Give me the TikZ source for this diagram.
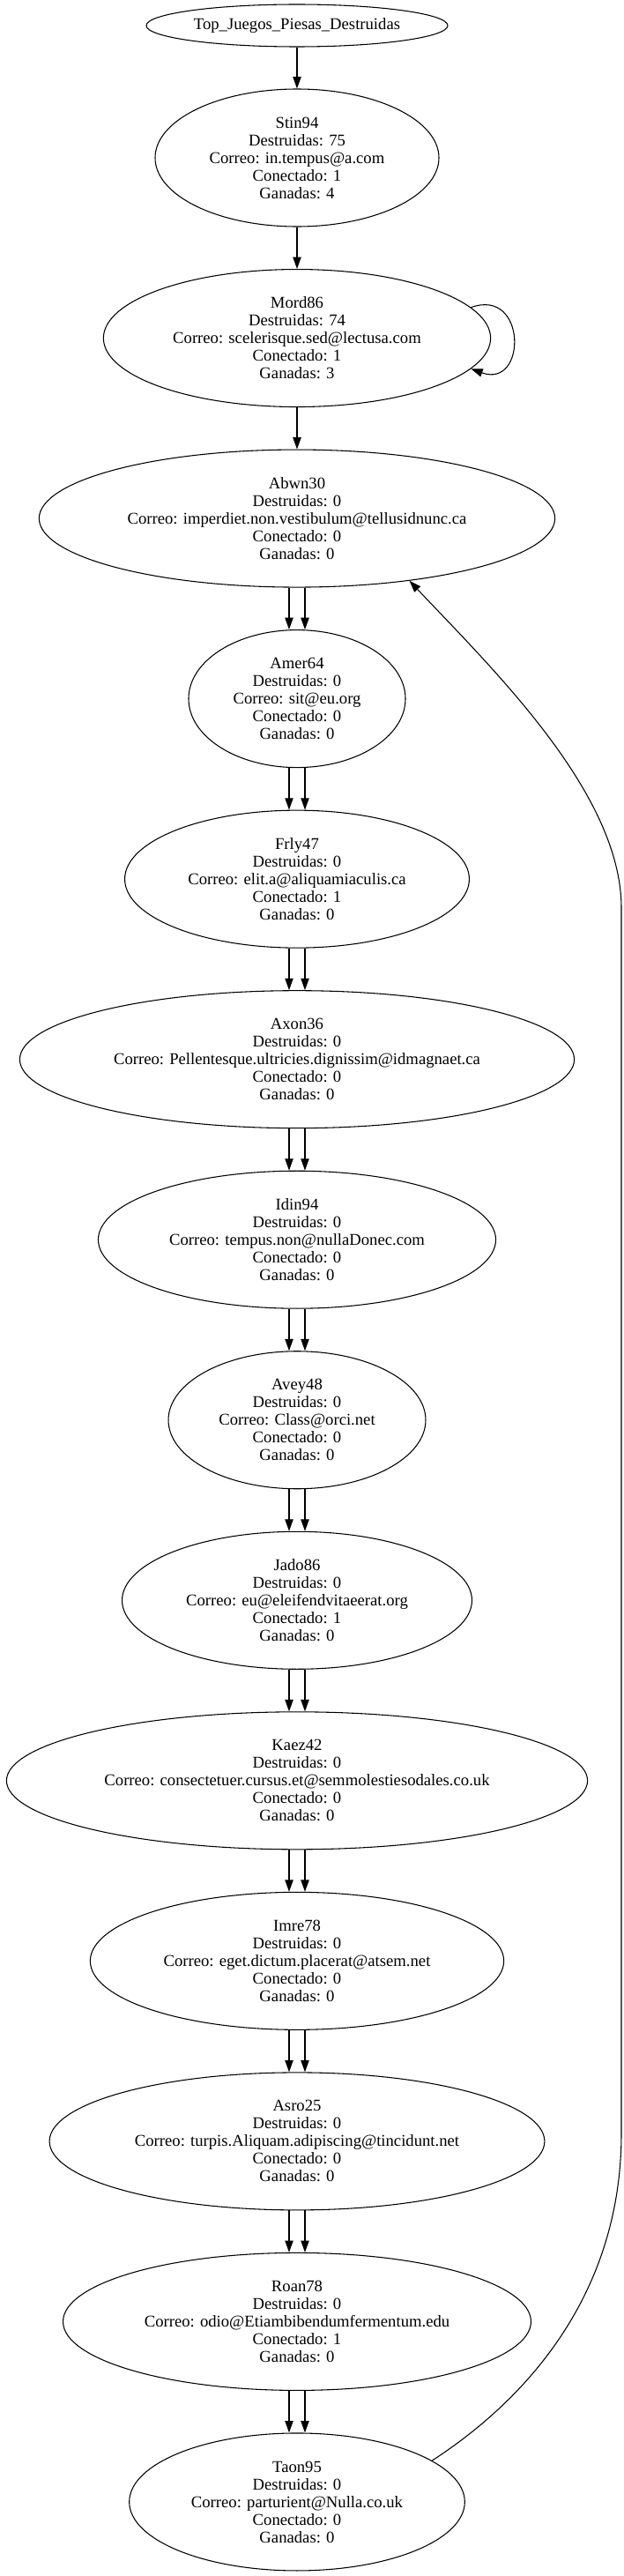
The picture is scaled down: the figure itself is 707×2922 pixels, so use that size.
\documentclass[tikz,border=0pt]{standalone}
\usepackage{fontspec}
\setmainfont{Liberation Serif}
\usetikzlibrary{shapes.geometric,positioning,arrows.meta}

\begin{document}
\begin{tikzpicture}[%
	    ->,
	    >={Triangle[length=10pt,width=7pt]},
	    x=0.75pt, y=-0.75pt,
	    node distance=153.4pt,
	    on grid,
	    jugador/.style={ellipse, draw, align=center,
	      font=\fontsize{14}{15}\selectfont,
	      inner xsep=10.9pt, inner ysep=0pt, minimum height=117pt},
	    thick
	  ]

  \useasboundingbox (0,0) rectangle (707,2922);

	  \node[jugador, minimum width=256.5pt, minimum height=36pt, inner sep=0pt] (Top) at (337,29) {Top\_Juegos\_Piesas\_Destruidas};
	  \node[jugador] (Stin94) [below=112.5pt of Top] {Stin94\\Destruidas: 75\\Correo: in.tempus@a.com\\Conectado: 1\\Ganadas: 4};
	  \node[jugador] (Mord86) [below of=Stin94] {Mord86\\Destruidas: 74\\Correo: scelerisque.sed@lectusa.com\\Conectado: 1\\Ganadas: 3};
	  \node[jugador] (Abwn30) [below of=Mord86] {Abwn30\\Destruidas: 0\\Correo: imperdiet.non.vestibulum@tellusidnunc.ca\\Conectado: 0\\Ganadas: 0};
	  \node[jugador] (Amer64) [below of=Abwn30] {Amer64\\Destruidas: 0\\Correo: sit@eu.org\\Conectado: 0\\Ganadas: 0};
	  \node[jugador] (Frly47) [below of=Amer64] {Frly47\\Destruidas: 0\\Correo: elit.a@aliquamiaculis.ca\\Conectado: 1\\Ganadas: 0};
	  \node[jugador] (Axon36) [below of=Frly47] {Axon36\\Destruidas: 0\\Correo: Pellentesque.ultricies.dignissim@idmagnaet.ca\\Conectado: 0\\Ganadas: 0};
	  \node[jugador] (Idin94) [below of=Axon36] {Idin94\\Destruidas: 0\\Correo: tempus.non@nullaDonec.com\\Conectado: 0\\Ganadas: 0};
	  \node[jugador] (Avey48) [below of=Idin94] {Avey48\\Destruidas: 0\\Correo: Class@orci.net\\Conectado: 0\\Ganadas: 0};
	  \node[jugador] (Jado86) [below of=Avey48] {Jado86\\Destruidas: 0\\Correo: eu@eleifendvitaeerat.org\\Conectado: 1\\Ganadas: 0};
	  \node[jugador] (Kaez42) [below of=Jado86] {Kaez42\\Destruidas: 0\\Correo: consectetuer.cursus.et@semmolestiesodales.co.uk\\Conectado: 0\\Ganadas: 0};
	  \node[jugador] (Imre78) [below of=Kaez42] {Imre78\\Destruidas: 0\\Correo: eget.dictum.placerat@atsem.net\\Conectado: 0\\Ganadas: 0};
	  \node[jugador] (Asro25) [below of=Imre78] {Asro25\\Destruidas: 0\\Correo: turpis.Aliquam.adipiscing@tincidunt.net\\Conectado: 0\\Ganadas: 0};
	  \node[jugador] (Roan78) [below of=Asro25] {Roan78\\Destruidas: 0\\Correo: odio@Etiambibendumfermentum.edu\\Conectado: 1\\Ganadas: 0};
	  \node[jugador] (Taon95) [below of=Roan78] {Taon95\\Destruidas: 0\\Correo: parturient@Nulla.co.uk\\Conectado: 0\\Ganadas: 0};

	  \path[->]
	      (Top)
		  edge (Stin94)
	      (Stin94)
		  edge (Mord86)
	      (Mord86)
		  edge (Abwn30)
	      (Mord86.10)
		  edge[out=20, in=-20, looseness=2.5] (Mord86.-10)
	      ([xshift=-6.75pt]Abwn30.south) edge ([xshift=-6.75pt]Amer64.north)
	      ([xshift=6.75pt]Abwn30.south) edge ([xshift=6.75pt]Amer64.north)
	      ([xshift=-6.75pt]Amer64.south) edge ([xshift=-6.75pt]Frly47.north)
	      ([xshift=6.75pt]Amer64.south) edge ([xshift=6.75pt]Frly47.north)
	      ([xshift=-6.75pt]Frly47.south) edge ([xshift=-6.75pt]Axon36.north)
	      ([xshift=6.75pt]Frly47.south) edge ([xshift=6.75pt]Axon36.north)
	      ([xshift=-6.75pt]Axon36.south) edge ([xshift=-6.75pt]Idin94.north)
	      ([xshift=6.75pt]Axon36.south) edge ([xshift=6.75pt]Idin94.north)
	      ([xshift=-6.75pt]Idin94.south) edge ([xshift=-6.75pt]Avey48.north)
	      ([xshift=6.75pt]Idin94.south) edge ([xshift=6.75pt]Avey48.north)
	      ([xshift=-6.75pt]Avey48.south) edge ([xshift=-6.75pt]Jado86.north)
	      ([xshift=6.75pt]Avey48.south) edge ([xshift=6.75pt]Jado86.north)
	      ([xshift=-6.75pt]Jado86.south) edge ([xshift=-6.75pt]Kaez42.north)
	      ([xshift=6.75pt]Jado86.south) edge ([xshift=6.75pt]Kaez42.north)
	      ([xshift=-6.75pt]Kaez42.south) edge ([xshift=-6.75pt]Imre78.north)
	      ([xshift=6.75pt]Kaez42.south) edge ([xshift=6.75pt]Imre78.north)
	      ([xshift=-6.75pt]Imre78.south) edge ([xshift=-6.75pt]Asro25.north)
	      ([xshift=6.75pt]Imre78.south) edge ([xshift=6.75pt]Asro25.north)
	      ([xshift=-6.75pt]Asro25.south) edge ([xshift=-6.75pt]Roan78.north)
	      ([xshift=6.75pt]Asro25.south) edge ([xshift=6.75pt]Roan78.north)
	      ([xshift=-6.75pt]Roan78.south) edge ([xshift=-6.75pt]Taon95.north)
	      ([xshift=6.75pt]Roan78.south) edge ([xshift=6.75pt]Taon95.north);

	  % vuelta de Taon95 a Abwn30
	  \coordinate (vueltaAbajo) at (705,2420);
	  \coordinate (vueltaArriba) at (705,1030);
	  \draw[->] (Taon95.17) .. controls (600,2720) and (705,2600) .. (vueltaAbajo)
	      -- (vueltaArriba) .. controls (705,900) and (560,760) .. (Abwn30.-29);

       \end{tikzpicture}
\end{document}
